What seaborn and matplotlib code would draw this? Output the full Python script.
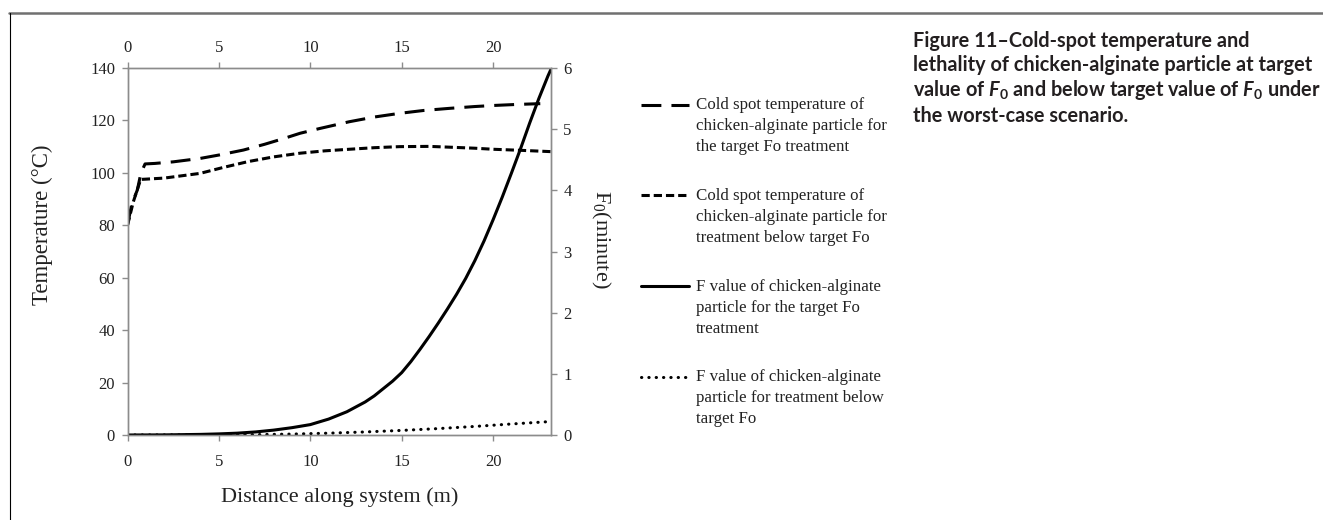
import numpy as np
import pandas as pd
import matplotlib
matplotlib.use('Agg')
import matplotlib.pyplot as plt
import seaborn as sns
from matplotlib.lines import Line2D

# cold spot temperature (left axis, deg C)
x_temp_target = [0, 0.23, 0.54, 0.73, 0.96, 1.5, 2.5, 3.97, 5.0, 6.34, 7.5, 8.5, 9.44, 10.5,
                 12.13, 13.5, 14.88, 16.2, 17.6, 19.0, 20.0, 21.3, 22.58]
t_target = [80, 88, 93.5, 99.8, 103.4, 103.6, 104.2, 105.5, 106.8, 108.7, 110.9, 113.0, 115.1, 116.9,
            119.5, 121.3, 122.7, 123.8, 124.6, 125.3, 125.7, 126.1, 126.4]
x_temp_below = [0, 0.32, 0.72, 1.0, 2.0, 3.97, 5.2, 6.6, 8.0, 9.44, 10.8, 12.13, 13.5, 14.88,
                16.5, 17.6, 19.0, 20.0, 21.5, 23.15]
t_below = [80, 89, 97.5, 97.6, 98.0, 99.8, 102.0, 104.3, 106.1, 107.5, 108.4, 109.0, 109.6, 110.0,
           110.1, 109.8, 109.4, 109.0, 108.6, 108.1]

# F value (right axis, minute)
x_f = [0, 2, 4, 5, 6, 7, 8, 9, 10, 11, 12, 12.5, 13, 13.5, 14, 14.5, 15, 15.5, 16, 16.5, 17,
       17.5, 18, 18.5, 19, 19.5, 20, 20.5, 21, 21.5, 22, 22.5, 23, 23.15]
f_target = [0, 0.002, 0.01, 0.018, 0.03, 0.05, 0.08, 0.12, 0.17, 0.26, 0.38, 0.46, 0.54, 0.64,
            0.76, 0.88, 1.02, 1.20, 1.40, 1.61, 1.83, 2.06, 2.30, 2.56, 2.85, 3.17, 3.52, 3.89,
            4.28, 4.68, 5.10, 5.50, 5.87, 5.97]
x_f_below = [0, 5, 7, 9, 11, 13, 15, 17, 19, 21, 23.15]
f_below = [0, 0.002, 0.006, 0.015, 0.03, 0.05, 0.075, 0.105, 0.14, 0.18, 0.22]

labels = [
    "Cold spot temperature of\nchicken-alginate particle for\nthe target Fo treatment",
    "Cold spot temperature of\nchicken-alginate particle for\ntreatment below target Fo",
    "F value of chicken-alginate\nparticle for the target Fo\ntreatment",
    "F value of chicken-alginate\nparticle for treatment below\ntarget Fo",
]
x_ticks = [0, 5, 10, 15, 20]
temp_ticks = list(range(0, 141, 20))
f_ticks = list(range(0, 7))

sns.set_theme(style='white')
plt.rcParams['font.family'] = ['Liberation Serif', 'DejaVu Serif']
plt.rcParams['mathtext.fontset'] = 'custom'
plt.rcParams['mathtext.it'] = 'Lato:italic:bold'

fig = plt.figure(figsize=(13.23, 5.2), dpi=100)
ax = fig.add_axes([127.5 / 1323, 1 - 435 / 520, (550.7 - 127.5) / 1323, (435 - 68) / 520])
ax2 = ax.twinx()

lw = 2.2
sns.lineplot(x=x_temp_target, y=t_target, ax=ax, color='black', linewidth=lw,
             linestyle=(0, (6.5, 3.3)), label=labels[0], legend=False)
sns.lineplot(x=x_temp_below, y=t_below, ax=ax, color='black', linewidth=lw,
             linestyle=(0, (2.7, 1.3)), label=labels[1], legend=False)
sns.lineplot(x=x_f, y=f_target, ax=ax2, color='black', linewidth=lw,
             label=labels[2], legend=False)
sns.lineplot(x=x_f_below, y=f_below, ax=ax2, color='black', linewidth=lw,
             linestyle=(0, (0.1, 2.3)), dash_capstyle='round', label=labels[3], legend=False)

gray = '#8c8c8c'
for a in (ax, ax2):
    a.set_xlim(0, 23.15)
    for s in a.spines.values():
        s.set_color(gray)
        s.set_linewidth(1.0)
ax.set_ylim(0, 140)
ax2.set_ylim(0, 6)
ax.set_xticks(x_ticks)
ax.set_yticks(temp_ticks)
ax2.set_yticks(f_ticks)
ax.tick_params(axis='both', which='both', direction='out', length=4, width=1, color=gray,
               labelsize=12, labelcolor='#222222', pad=5)
ax.tick_params(axis='x', top=False, labeltop=False, bottom=True, labelbottom=True, pad=10)
ax.tick_params(axis='y', left=True)
# top scale shows the same distances (twinx hides its x axis, so switch it back on)
ax2.xaxis.set_visible(True)
ax2.set_xticks(x_ticks)
ax2.set_xlabel('')
ax2.tick_params(axis='x', top=True, labeltop=True, bottom=False, labelbottom=False,
                direction='out', length=4, width=1, color=gray, labelsize=12,
                labelcolor='#222222', pad=5)
ax2.tick_params(axis='y', right=True, direction='out', length=4, width=1, color=gray,
                labelsize=12, labelcolor='#222222', pad=5)

ax.set_xlabel('Distance along system (m)', fontsize=16, color='#222222')
ax.set_ylabel('Temperature (°C)', fontsize=16.5, color='#222222')
ax2.set_ylabel(r'F$\mathregular{_0}$(minute)', fontsize=16, color='#222222', rotation=270)
ax.xaxis.set_label_coords(0.502, -0.169)
ax.xaxis.label.set_va('center')
ax.yaxis.set_label_coords(-0.2, 0.572)
ax.yaxis.label.set_va('center')
ax2.yaxis.set_label_coords(1.117, 0.534)
ax2.yaxis.label.set_va('center')
ax.grid(False)
ax2.grid(False)

handles = ax.get_lines() + ax2.get_lines()
leg = fig.legend(handles=handles, labels=labels, loc='upper left',
                 bbox_to_anchor=(641 / 1323, 1 - 97 / 520), frameon=False,
                 fontsize=12.2, handlelength=2.85, handletextpad=0.4,
                 labelspacing=1.93, borderpad=0, borderaxespad=0)
for t in leg.get_texts():
    t.set_linespacing(1.42)
    t.set_color('#222222')
# put the legend sample next to the first line of each label
for ln in leg.get_lines():
    y = np.asarray(ln.get_ydata(), dtype=float)
    ln.set_ydata(y + 15.5)

caption = ("Figure 11\u2013Cold-spot temperature and\n"
           "lethality of chicken-alginate particle at target\n"
           r"value of $F\mathregular{_0}$ and below target value of $F\mathregular{_0}$ under" "\n"
           "the worst-case scenario.")
fig.text(913 / 1323, 1 - 31 / 520, caption, family='Lato', fontweight='bold', fontsize=14.3,
         color='#231f20', ha='left', va='top', linespacing=1.22)

# figure frame: grey rule at top, thin black line at the left
fig.add_artist(Line2D([9 / 1323, 1], [1 - 13 / 520, 1 - 13 / 520], color='#707070', linewidth=1.8))
fig.add_artist(Line2D([9.5 / 1323, 9.5 / 1323], [0, 1 - 13 / 520], color='black', linewidth=0.8))

fig.savefig('out.png', dpi=100)
